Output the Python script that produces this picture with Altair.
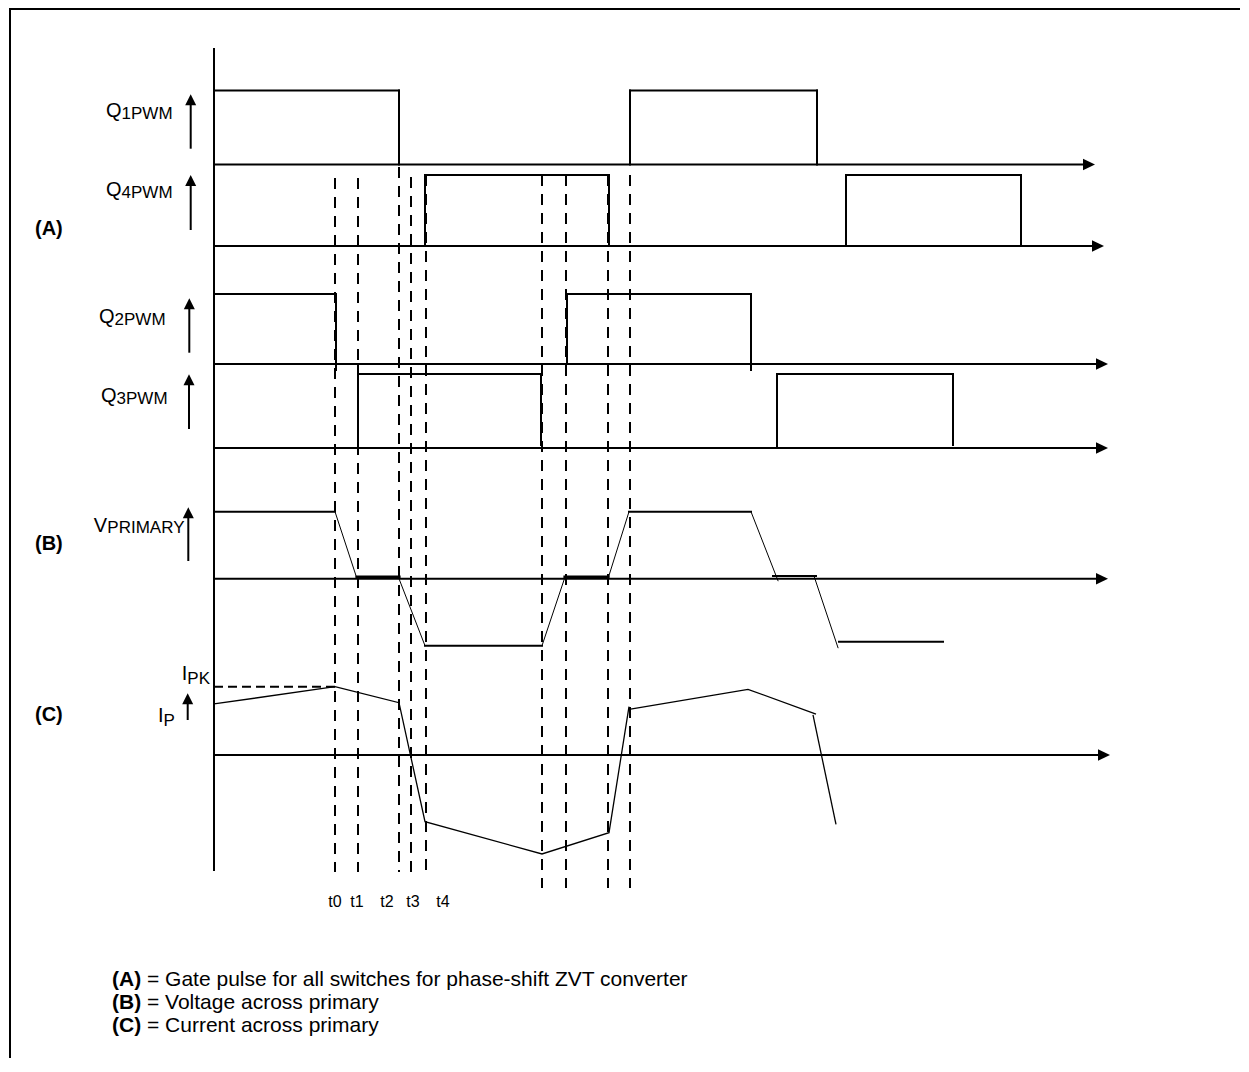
import altair as alt
import pandas as pd

# ------------------------------------------------------------------ data
# gate pulses: switch-on / switch-off instants (time measured from the vertical axis)
Q1_ON, Q1_OFF = [0, 416], [185, 603]
Q4_ON, Q4_OFF = [211, 632], [395, 807]
Q2_ON, Q2_OFF = [0, 353], [122, 537]
Q3_ON, Q3_OFF = [144, 563], [327, 739]

# transition instants marked with dashed lines
MARK_T = [121, 144, 185, 197, 212, 328, 352, 394, 416]
T_NAMES = ["t0", "t1", "t2", "t3", "t4"]
T_NAME_AT = [121, 143, 173, 199, 229]

# primary voltage: piecewise segments (start/end time, start/end level; +1 = +Vin)
V_T0 = [0, 121, 143, 185, 211, 328, 351, 394, 415, 537, 559, 600, 625]
V_T1 = [121, 143, 185, 211, 328, 351, 394, 415, 537, 564, 602, 624, 729]
V_L0 = [1, 1, 0.025, 0, -1, -1, 0.025, 0, 1, 1, 0.04, 0.04, -0.94]
V_L1 = [1, 0, 0.025, -1, -1, 0.025, 0.025, 1, 1, -0.03, 0.04, -1.03, -0.94]

# primary current, normalised to I_PK = 1
I_A_T = [0, 121, 185, 211, 328, 395, 415]
I_A_V = [0.747, 1.0, 0.766, -0.977, -1.449, -1.138, 0.708]
I_B_T = [415, 534, 602]
I_B_V = [0.669, 0.962, 0.600]
I_C_T = [599, 622]
I_C_V = [0.586, -1.015]
I_PK = 1.0

LEGEND_KEYS = ["(A)", "(B)", "(C)"]
LEGEND_TEXT = [
    "= Gate pulse for all switches for phase-shift ZVT converter",
    "= Voltage across primary",
    "= Current across primary",
]
SECTION_KEYS = ["(A)", "(B)", "(C)"]

# ------------------------------------------------------------------ layout / style
FONT = "Liberation Sans"
X_AX = 214                       # page x of the time origin
W, H = 1232, 1050
LANE = {"Q1": (164.5, 90.5), "Q4": (246, 175), "Q2": (364, 294), "Q3": (448, 374)}
V_BASE, V_AMP = 578.7, 67.0
I_BASE, I_AMP = 755.0, 68.3
V_W = [2, 1, 3.2, 1, 2, 1, 3.2, 1, 2, 1, 2, 1, 2]
TIP = {"Q1": 1095, "Q4": 1104, "Q2": 1108, "Q3": 1108, "V": 1108, "I": 1110}
BASE_Y = {"Q1": 164.5, "Q4": 246, "Q2": 364, "Q3": 448, "V": V_BASE, "I": I_BASE}
MARK_TOP = [178, 178, 167, 177, 175, 175, 175, 175, 175]
MARK_BOT = [872, 872, 872, 877, 872, 888, 888, 888, 888]


def px(x):
    return x - X_AX


segs, dashes, heads_r, heads_u = [], [], [], []


def seg(t1, y1, t2, y2, w=2.0):
    segs.append(dict(x=t1, y=y1, x2=t2, y2=y2, w=w))


# frame
seg(px(10), 9, px(1240), 9, 2)
seg(px(10), 9, px(10), 8 + H, 2)

# vertical axis
seg(0, 49, 0, 870, 2)

# baselines with arrows
for k, yb in BASE_Y.items():
    tip = px(TIP[k])
    seg(0, yb, tip - 11, yb, 2)
    heads_r.append(dict(x=tip - 6, y=yb))


# gate pulses
def pulses(name, ons, offs, fall_lo=None, first_rise_lo=None):
    base, high = LANE[name]
    for j, (on, off) in enumerate(zip(ons, offs)):
        if on > 0:
            if j == 0 and first_rise_lo is not None:
                seg(on, base, on, first_rise_lo, 2)
            else:
                seg(on, base, on, high, 2)
        seg(on, high, off, high, 2)
        seg(off, high, off, base if fall_lo is None else fall_lo, 2)


pulses("Q1", Q1_ON, Q1_OFF)
pulses("Q4", Q4_ON, Q4_OFF)
pulses("Q2", Q2_ON, Q2_OFF, fall_lo=370)
pulses("Q3", Q3_ON, Q3_OFF, fall_lo=445, first_rise_lo=364)

# primary voltage
for a, b, la, lb, w in zip(V_T0, V_T1, V_L0, V_L1, V_W):
    seg(a, V_BASE - la * V_AMP, b, V_BASE - lb * V_AMP, w)

# primary current polylines
cur_rows = []
for sid, (ts, vs) in enumerate([(I_A_T, I_A_V), (I_B_T, I_B_V), (I_C_T, I_C_V)]):
    for i, (t, v) in enumerate(zip(ts, vs)):
        cur_rows.append(dict(sid=sid, i=i, x=t, y=I_BASE - v * I_AMP))

# dashed markers and I_PK level
for t, a, b in zip(MARK_T, MARK_TOP, MARK_BOT):
    dashes.append(dict(x=t, x2=t, y=a, y2=b))
ipk = [dict(x=0, x2=I_A_T[1], y=I_BASE - I_PK * I_AMP, y2=I_BASE - I_PK * I_AMP)]

# small upward arrows beside the signal names
UP = [(190.7, 147.7, 94.3), (190.7, 229, 175), (189.3, 351.7, 298.3),
      (189, 428, 374.3), (188.3, 560, 507.3), (187.7, 719, 693.3)]
for xa, tail, tip in UP:
    seg(px(xa), tail, px(xa), tip + 9, 2)
    heads_u.append(dict(x=px(xa), y=tip + 5.5))

# texts
big, sub_sz = 20, 17
txt_left, txt_right, txt_center, txt_bold = [], [], [], []
for (q, sub), (xl, yb) in zip(
        [("Q", "1PWM"), ("Q", "4PWM"), ("Q", "2PWM"), ("Q", "3PWM")],
        [(106, 117.3), (106, 196), (99, 323), (101, 401.7)]):
    txt_left.append(dict(x=px(xl), y=yb, text=q, size=big))
    txt_left.append(dict(x=px(xl + 0.778 * big), y=yb + 2, text=sub, size=sub_sz))
txt_right.append(dict(x=px(184.5), y=533.3, text="PRIMARY", size=sub_sz))
txt_right.append(dict(x=px(184.5 - 4.556 * sub_sz), y=531.5, text="V", size=big))
txt_right.append(dict(x=px(187.3), y=680, text="I", size=big))
txt_left.append(dict(x=px(187.3), y=684, text="PK", size=sub_sz))
txt_right.append(dict(x=px(163.5), y=721.7, text="I", size=big))
txt_left.append(dict(x=px(163.5), y=725.5, text="P", size=sub_sz))
for name, t in zip(T_NAMES, T_NAME_AT):
    txt_center.append(dict(x=t, y=907, text=name, size=16))
SEC = 20
for key, yb in zip(SECTION_KEYS, [235.2, 550, 721]):
    txt_bold.append(dict(x=px(35), y=yb, text=key, size=SEC))
LEG = 21
for key, line, yb in zip(LEGEND_KEYS, LEGEND_TEXT, [985.5, 1008.5, 1031.5]):
    txt_bold.append(dict(x=px(112), y=yb, text=key, size=LEG))
    txt_left.append(dict(x=px(112 + (1.388 + 0.278) * LEG), y=yb, text=line, size=LEG))

# ------------------------------------------------------------------ chart
xs = alt.Scale(domain=[8 - X_AX, 8 + W - X_AX], nice=False, zero=False)
ys = alt.Scale(domain=[8, 8 + H], reverse=True, nice=False, zero=False)
X = alt.X("x:Q", scale=xs, axis=None)
Y = alt.Y("y:Q", scale=ys, axis=None)

solid = alt.Chart(pd.DataFrame(segs)).mark_rule(color="black", strokeCap="square").encode(
    x=X, y=Y, x2="x2:Q", y2="y2:Q",
    strokeWidth=alt.StrokeWidth("w:Q", scale=None, legend=None))
dashed = alt.Chart(pd.DataFrame(dashes)).mark_rule(
    color="black", strokeWidth=2, strokeDash=[11, 8]).encode(x=X, y=Y, x2="x2:Q", y2="y2:Q")
ipk_l = alt.Chart(pd.DataFrame(ipk)).mark_rule(
    color="black", strokeWidth=2, strokeDash=[9, 5]).encode(x=X, y=Y, x2="x2:Q", y2="y2:Q")
cur = alt.Chart(pd.DataFrame(cur_rows)).mark_line(color="black", strokeWidth=1.3).encode(
    x=X, y=Y, detail="sid:N", order="i:Q")
hr = alt.Chart(pd.DataFrame(heads_r)).mark_point(
    shape="M-1,-0.95L1,0L-1,0.95Z", size=144, filled=True, color="black", opacity=1,
    strokeWidth=0).encode(x=X, y=Y)
hu = alt.Chart(pd.DataFrame(heads_u)).mark_point(
    shape="M-1,1L0,-1L1,1Z", size=121, filled=True, color="black", opacity=1,
    strokeWidth=0).encode(x=X, y=Y)


def texts(rows, align, weight="normal"):
    return alt.Chart(pd.DataFrame(rows)).mark_text(
        align=align, baseline="alphabetic", font=FONT, fontWeight=weight, color="black"
    ).encode(x=X, y=Y, text="text:N", size=alt.Size("size:Q", scale=None, legend=None))


chart = alt.layer(
    dashed, ipk_l, solid, cur, hr, hu,
    texts(txt_left, "left"), texts(txt_right, "right"), texts(txt_center, "center"),
    texts(txt_bold, "left", "bold"),
).properties(
    width=W, height=H, autosize=alt.AutoSizeParams(type="none"), padding=0,
    background="white",
).configure_view(stroke=None)

chart.save("out.html", embed_options={"renderer": "svg", "actions": False})
